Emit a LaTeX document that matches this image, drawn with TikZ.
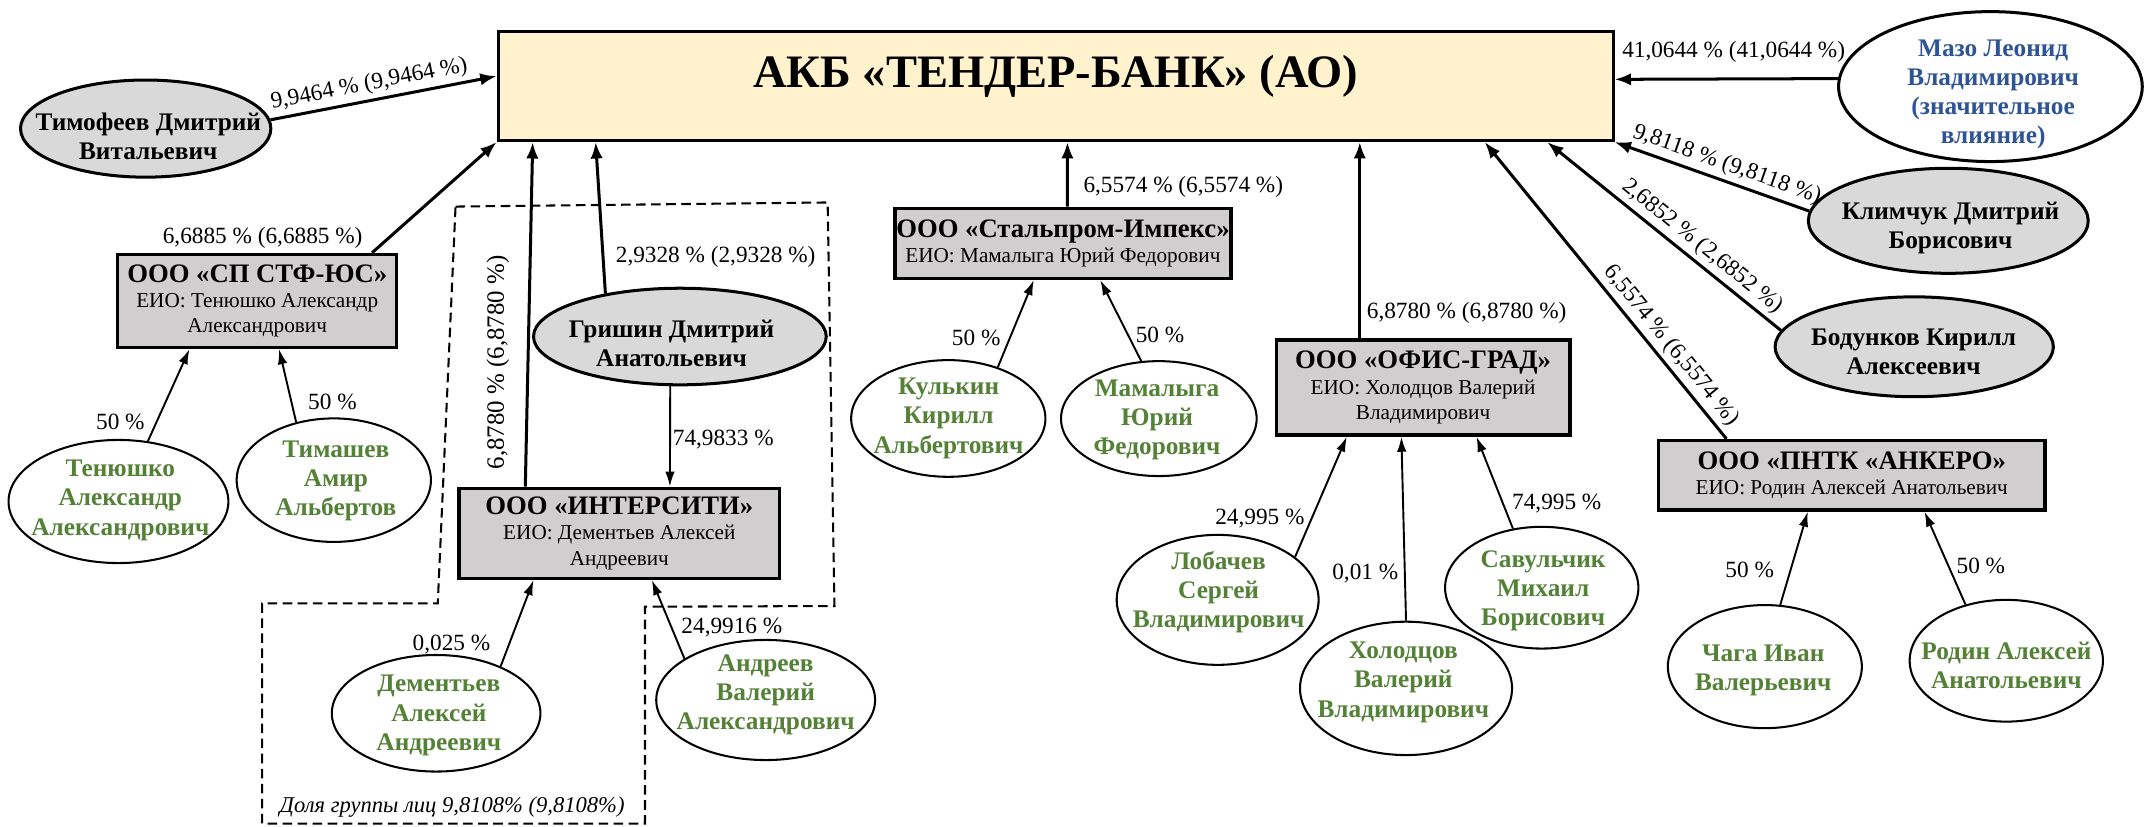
\documentclass[tikz,border=0pt]{standalone}
\usepackage{fontspec}
\setmainfont{Liberation Serif}
\usetikzlibrary{shapes.geometric,arrows.meta,calc}
\definecolor{bankfill}{HTML}{FFF2CC}
\definecolor{boxfill}{HTML}{D0CECE}
\definecolor{ellfill}{HTML}{D9D9D9}
\definecolor{grn}{HTML}{538135}
\definecolor{blu}{HTML}{2F5496}
\begin{document}
\begin{tikzpicture}[x=1pt,y=-1pt,
  bankbox/.style={draw, line width=2.2pt, fill=bankfill, minimum width=815pt, minimum height=80pt, inner sep=0},
  cobox/.style={draw, line width=2.5pt, fill=boxfill, align=center, inner sep=1pt, font=\fontsize{15.5}{18.5}\selectfont},
  grayell/.style={draw, ellipse, line width=2.2pt, fill=ellfill, inner sep=0},
  whiteell/.style={draw, ellipse, line width=1.5pt, fill=white, inner sep=0},
  nametxt/.style={align=center, inner sep=0, font=\fontsize{18.5}{21.3}\selectfont\bfseries},
  grntxt/.style={nametxt, text=grn},
  lbl/.style={inner sep=0, font=\fontsize{17}{20}\selectfont},
  bigarr/.style={line width=2.2pt, -{Latex[length=12pt,width=9pt]}},
  smallarr/.style={line width=1.4pt, -{Latex[length=11pt,width=7pt]}},
  grp/.style={dash pattern=on 7pt off 4pt, line width=1.5pt}
]
\useasboundingbox (0,0) rectangle (1568,604);

% group of persons
\draw[grp] (333,151) -- (605,148) -- (610,443) -- (471.5,443.5) -- (471.5,602) -- (191.6,602) -- (191.6,441) -- (320,441) -- cycle;
\node[font=\fontsize{16.5}{19}\selectfont\itshape, inner sep=0] (grplbl) at (330.5,589.7) {Доля группы лиц 9,8108\% (9,8108\%)};

% bank
\node[bankbox] (bank) at (771.65,62.75) {};
\node[font=\fontsize{34}{37}\selectfont\bfseries, inner sep=0, anchor=base] (banktitle) at (771.65,63.6) {АКБ «ТЕНДЕР-БАНК» (АО)};

% gray / major persons
\node[draw, ellipse, line width=2.2pt, fill=white, minimum width=222pt, minimum height=109.6pt, inner sep=0] (mazo) at (1455,63.3) {};
\node[nametxt, text=blu] (mazot) at (1457,69) {Мазо Леонид\\Владимирович\\(значительное\\влияние)};

\node[grayell, minimum width=183pt, minimum height=71pt] (tim) at (106.5,94) {};
\node[nametxt] (timt) at (108.4,99.5) {Тимофеев Дмитрий\\Витальевич};

\node[grayell, minimum width=204.6pt, minimum height=76.8pt] (klim) at (1424.2,161.4) {};
\node[nametxt] (klimt) at (1425.8,166.9) {Климчук Дмитрий\\Борисович};

\node[grayell, minimum width=203.4pt, minimum height=73pt] (bod) at (1399.3,253.5) {};
\node[nametxt] (bodt) at (1398.8,257) {Бодунков Кирилл\\Алексеевич};

\node[grayell, minimum width=214pt, minimum height=70.6pt] (gri) at (497,246) {};
\node[nametxt] (grit) at (490.9,251) {Гришин Дмитрий\\Анатольевич};

% companies
\node[cobox, minimum width=204pt, minimum height=68pt] (sp) at (188,220) {{\fontsize{19.5}{21}\selectfont\bfseries ООО «СП СТФ-ЮС»}\\ЕИО: Тенюшко Александр\\Александрович};
\node[cobox, minimum width=234.5pt, minimum height=65.8pt] (inter) at (452.75,389.9) {{\fontsize{19.5}{21}\selectfont\bfseries ООО «ИНТЕРСИТИ»}\\ЕИО: Дементьев Алексей\\Андреевич};
\node[cobox, minimum width=245.5pt, minimum height=51.2pt] (stal) at (777,177.9) {{\fontsize{19.5}{21}\selectfont\bfseries ООО «Стальпром-Импекс»}\\ЕИО: Мамалыга Юрий Федорович};
\node[cobox, minimum width=214.7pt, minimum height=69.5pt] (ofis) at (1040.25,283.25) {{\fontsize{19.5}{21}\selectfont\bfseries ООО «ОФИС-ГРАД»}\\ЕИО: Холодцов Валерий\\Владимирович};
\node[cobox, minimum width=282.5pt, minimum height=50.8pt] (ank) at (1353.65,347.4) {{\fontsize{19.5}{21}\selectfont\bfseries ООО «ПНТК «АНКЕРО»}\\ЕИО: Родин Алексей Анатольевич};

% green persons
\node[whiteell, minimum width=160.7pt, minimum height=90pt] (ten) at (86.6,366.6) {};
\node[grntxt] (tent) at (88,365.7) {Тенюшко\\Александр\\Александрович};
\node[whiteell, minimum width=142pt, minimum height=90.3pt] (tims) at (244,351) {};
\node[grntxt] (timst) at (245.5,351.5) {Тимашев\\Амир\\Альбертов};
\node[whiteell, minimum width=142pt, minimum height=85.3pt] (kul) at (693.2,305.9) {};
\node[grntxt] (kult) at (693.4,305.8) {Кулькин\\Кирилл\\Альбертович};
\node[whiteell, minimum width=143pt, minimum height=84pt] (mam) at (847.1,306) {};
\node[grntxt] (mamt) at (845.8,306.8) {Мамалыга\\Юрий\\Федорович};
\node[whiteell, minimum width=147.6pt, minimum height=95pt] (lob) at (890.1,438.5) {};
\node[grntxt] (lobt) at (890.8,433) {Лобачев\\Сергей\\Владимирович};
\node[whiteell, minimum width=155pt, minimum height=97.5pt] (holo) at (1027.8,503.2) {};
\node[grntxt] (holot) at (1025.8,498.8) {Холодцов\\Валерий\\Владимирович};
\node[whiteell, minimum width=141.3pt, minimum height=89pt] (sav) at (1127,429.6) {};
\node[grntxt] (savt) at (1128,431.8) {Савульчик\\Михаил\\Борисович};
\node[whiteell, minimum width=141.8pt, minimum height=90pt] (chaga) at (1290.1,487.3) {};
\node[grntxt] (chagat) at (1288.9,490.3) {Чага Иван\\Валерьевич};
\node[whiteell, minimum width=141.3pt, minimum height=89pt] (rodin) at (1466.6,483) {};
\node[grntxt] (rodint) at (1466.7,486.6) {Родин Алексей\\Анатольевич};
\node[whiteell, minimum width=152.5pt, minimum height=85.2pt] (dem) at (318.8,521.4) {};
\node[grntxt] (demt) at (320.8,523) {Дементьев\\Алексей\\Андреевич};
\node[whiteell, minimum width=160pt, minimum height=87.8pt] (andr) at (559.7,511.7) {};
\node[grntxt] (andrt) at (559.7,508) {Андреев\\Валерий\\Александрович};

% connectors to the bank
\draw[bigarr] (tim.4) -- ([yshift=7.1pt]bank.west) node[lbl, pos=0.45, sloped, above=3pt] (l1) {9,9464 \% (9,9464 \%)};
\draw[bigarr] ([xshift=84pt]sp.north) -- (bank.south west);
\node[lbl] (l2) at (192,174) {6,6885 \% (6,6885 \%)};
\draw[bigarr] ([xshift=-68.75pt]inter.north) -- ([xshift=-382.25pt]bank.south);
\node[lbl, font=\fontsize{18.2}{20}\selectfont, rotate=90] (l3) at (364,265) {6,8780 \% (6,8780 \%)};
\draw[bigarr] (gri.150.4) -- ([xshift=-336.25pt]bank.south);
\node[lbl, anchor=west] (l4) at (450,188) {2,9328 \% (2,9328 \%)};
\draw[bigarr] ([xshift=3.3pt]stal.north) -- ([xshift=8.65pt]bank.south);
\node[lbl] (l6) at (865,136.5) {6,5574 \% (6,5574 \%)};
\draw[bigarr] ([xshift=-46.25pt]ofis.north) -- ([xshift=-46.25pt]ofis.north |- bank.south);
\node[lbl, anchor=west] (l7) at (999,229) {6,8780 \% (6,8780 \%)};
\draw[bigarr] ([xshift=-91.65pt]ank.north) -- ([xshift=313.65pt]bank.south) node[lbl, pos=0.28, sloped, above=3pt] (l8) {6,5574 \% (6,5574 \%)};
\draw[bigarr] (bod.173.9) -- ([xshift=359.35pt]bank.south) node[lbl, pos=0.38, sloped, above=3pt] (l9) {2,6852 \% (2,6852 \%)};
\draw[bigarr] (klim.176.25) -- (bank.south east) node[lbl, pos=0.45, sloped, above=3pt] (l10) {9,8118 \% (9,8118 \%)};
\draw[bigarr] (mazo.177.3) -- ([yshift=4.75pt]bank.east);
\node[lbl] (l11) at (1267.3,37.8) {41,0644 \% (41,0644 \%)};

% connectors to companies
\draw[smallarr] (gri.-101.8) -- ([xshift=36.95pt]inter.north);
\node[lbl] (l5) at (528.7,321.6) {74,9833 \%};
\draw[smallarr] (ten.64) -- ([xshift=-49.5pt]sp.south);
\node[lbl] (l12) at (88,308.3) {50 \%};
\draw[smallarr] (tims.123) -- ([xshift=16pt]sp.south);
\node[lbl] (l13) at (243,294) {50 \%};
\draw[smallarr] (kul.46) -- ([xshift=-21.3pt]stal.south);
\node[lbl] (l14) at (713.6,247.3) {50 \%};
\draw[smallarr] (mam.107) -- ([xshift=27.3pt]stal.south);
\node[lbl] (l15) at (848,245) {50 \%};
\draw[smallarr] (lob.29.2) -- ([xshift=-55.75pt]ofis.south);
\node[lbl] (l16) at (921,379) {24,995 \%};
\draw[smallarr] (holo.north) -- ([xshift=-15.85pt]ofis.south);
\node[lbl] (l17) at (998,419.5) {0,01 \%};
\draw[smallarr] (sav.116.6) -- ([xshift=39.05pt]ofis.south);
\node[lbl] (l18) at (1138,368) {74,995 \%};
\draw[smallarr] (chaga.76.5) -- ([xshift=-32.15pt]ank.south);
\node[lbl] (l19) at (1279,416.7) {50 \%};
\draw[smallarr] (rodin.126) -- ([xshift=53.15pt]ank.south);
\node[lbl] (l20) at (1448,414) {50 \%};
\draw[smallarr] (dem.36.5) -- ([xshift=-62.75pt]inter.south);
\node[lbl] (l21) at (330,471.5) {0,025 \%};
\draw[smallarr] (andr.153.8) -- ([xshift=23.75pt]inter.south);
\node[lbl] (l22) at (535,459) {24,9916 \%};
\end{tikzpicture}
\end{document}
